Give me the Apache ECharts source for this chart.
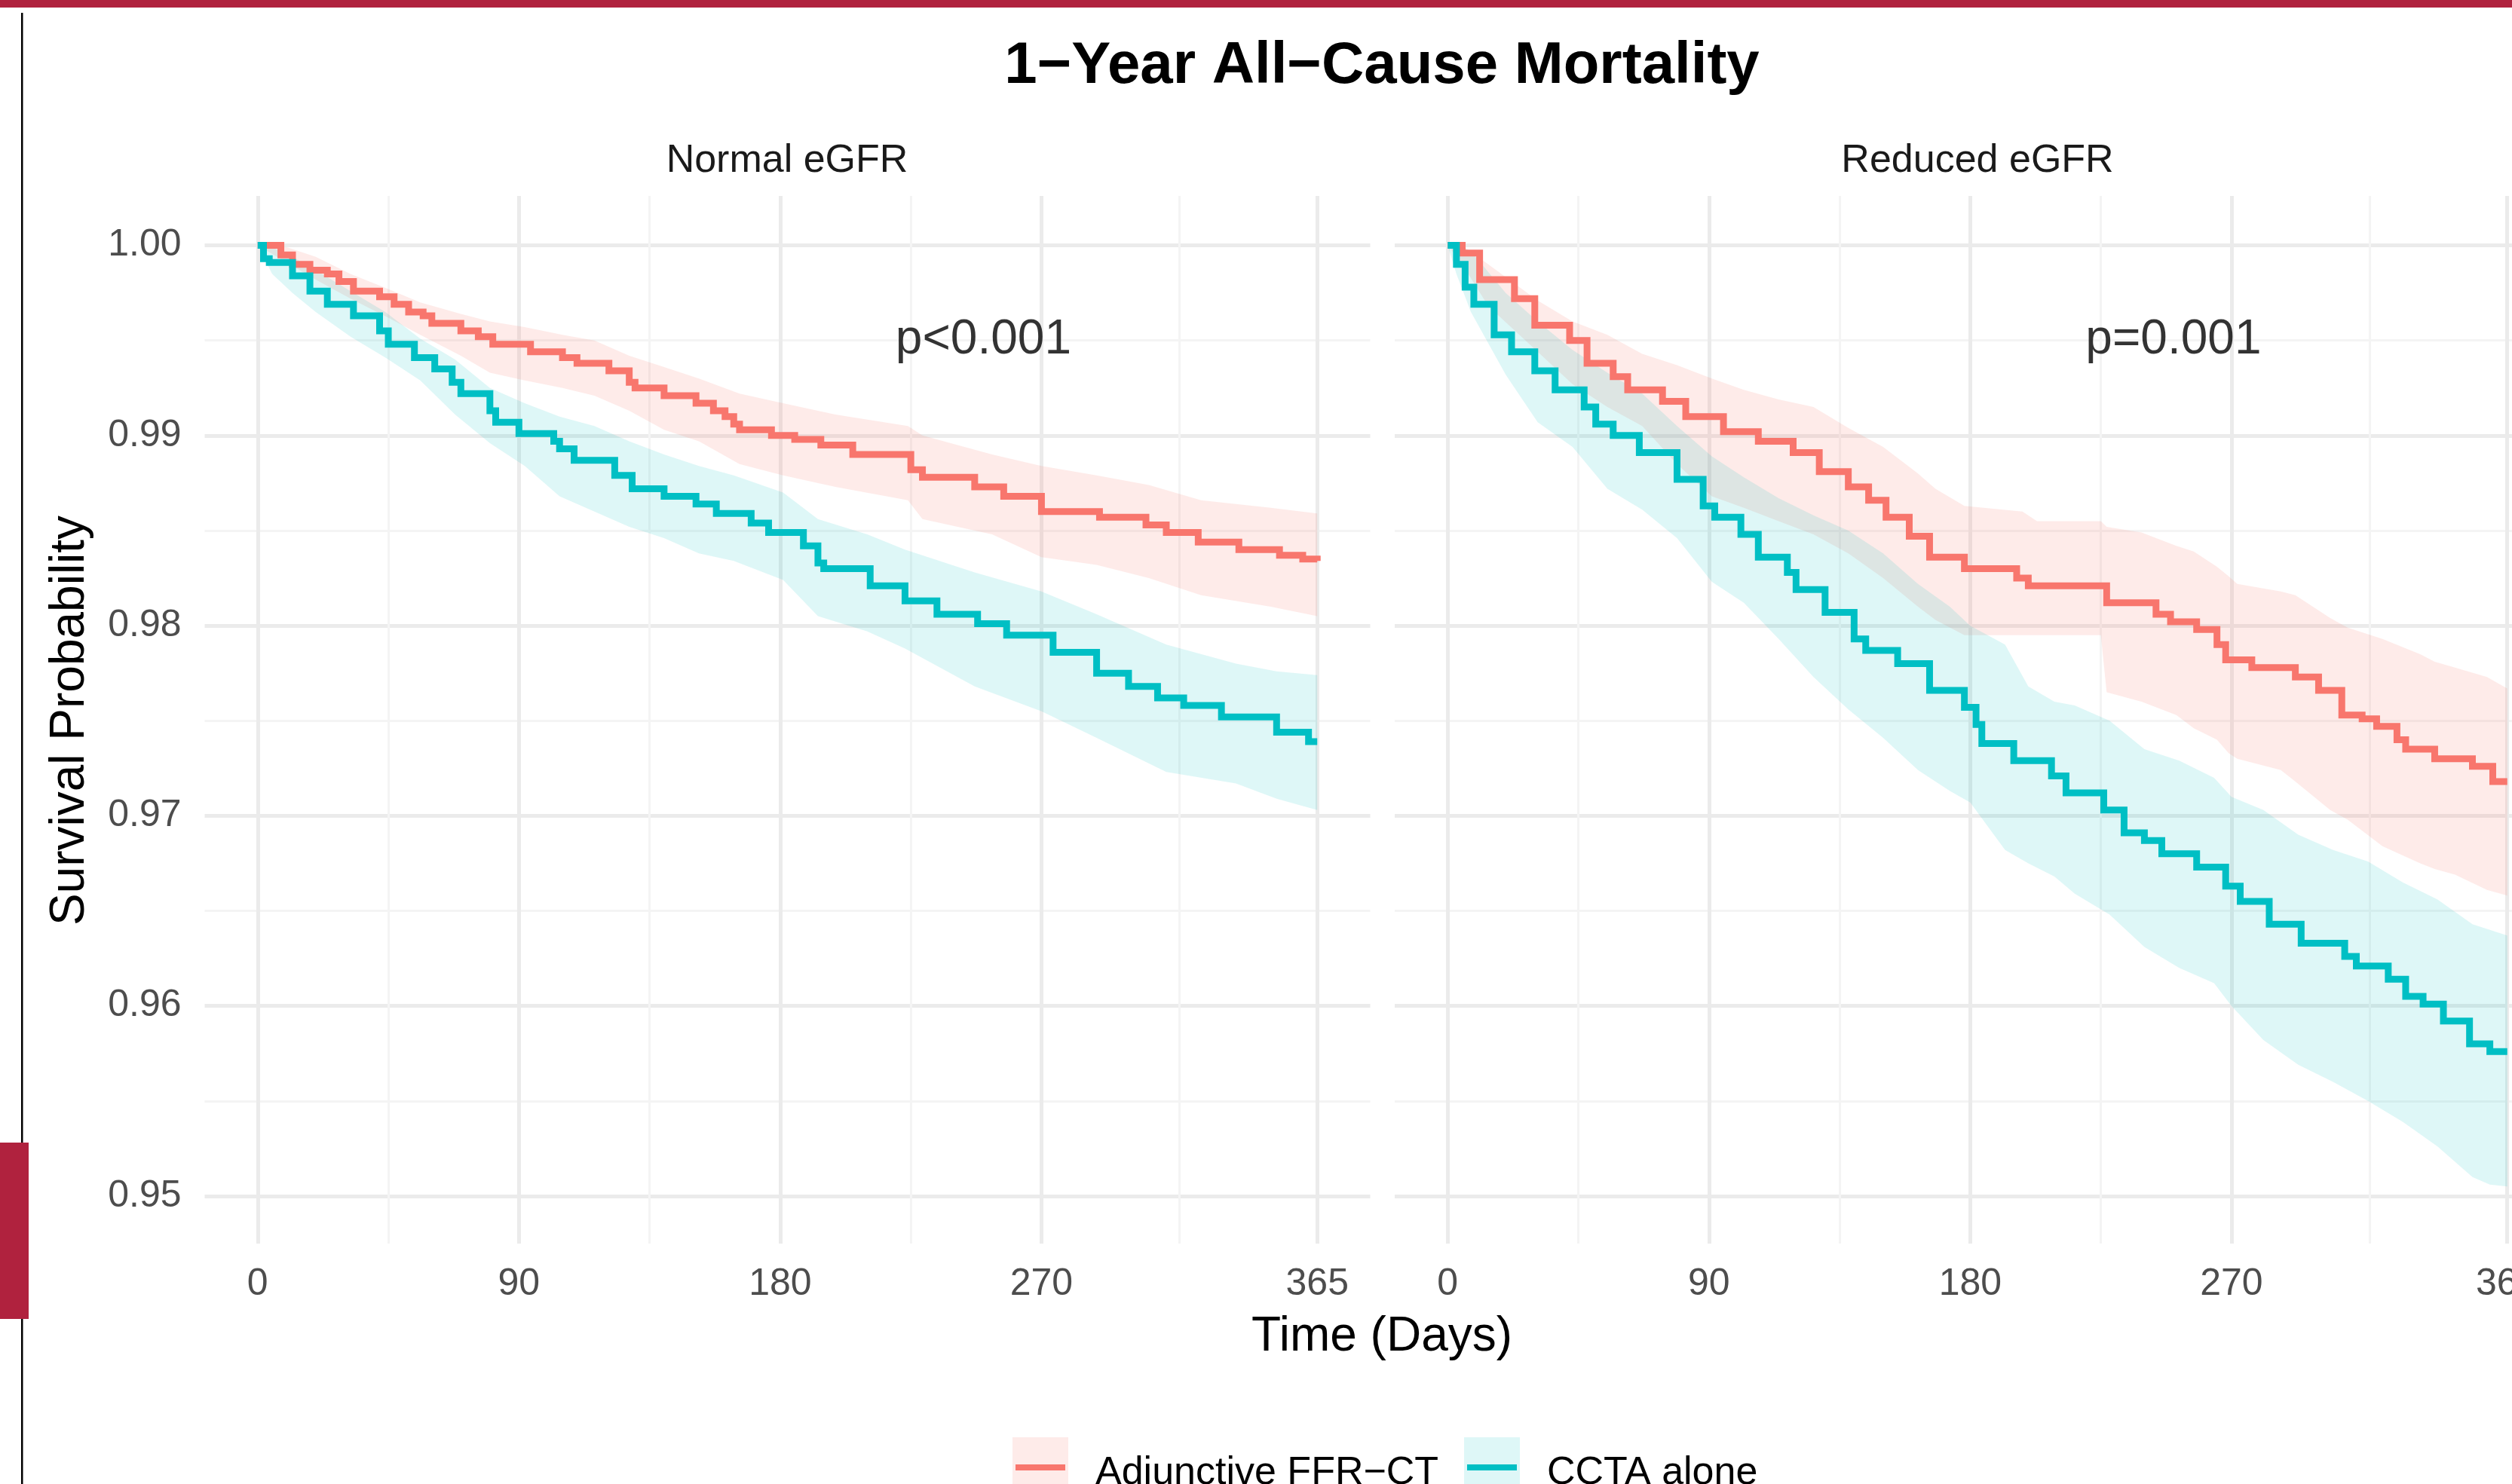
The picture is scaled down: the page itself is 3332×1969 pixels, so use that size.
<!DOCTYPE html>
<html>
<head>
<meta charset="utf-8">
<title>1-Year All-Cause Mortality</title>
<script src="https://cdn.jsdelivr.net/npm/echarts@6.0.0/dist/echarts.min.js"></script>
<style>
  html, body { margin: 0; padding: 0; background: #ffffff; }
  #chart { width: 3332px; height: 1969px; }
</style>
</head>
<body>
<div id="chart"></div>
<script>
// 坐标轴刻度
const xTicks = [0, 90, 180, 270, 365];
const xMinorTicks = [45, 135, 225, 317.5];
const yTicks = [0.95, 0.96, 0.97, 0.98, 0.99, 1.00];
const yMinorTicks = [0.955, 0.965, 0.975, 0.985, 0.995];

const panelNames = ['Normal eGFR', 'Reduced eGFR'];
const groupNames = ['Adjunctive FFR−CT', 'CCTA alone'];
const pValues = ['p<0.001', 'p=0.001'];
const pValueDay = 250;
const pValueSurv = 0.995;

// Normal eGFR - Adjunctive FFR-CT
const normFfrDays = [0, 8, 12, 18, 24, 28, 33, 42, 47, 52, 57, 60, 70, 76, 81, 94, 105, 110, 121, 128, 130, 140, 151, 157, 161, 164, 166, 177, 185, 194, 205, 225, 229, 247, 257, 270, 290, 306, 313, 324, 338, 352, 360, 365];
const normFfrSurv = [1.0, 0.9995, 0.9990, 0.9987, 0.9985, 0.9981, 0.9976, 0.9973, 0.9969, 0.9965, 0.9963, 0.9959, 0.9955, 0.9952, 0.9948, 0.9944, 0.9941, 0.9938, 0.9934, 0.9928, 0.9925, 0.9921, 0.9917, 0.9913, 0.9910, 0.9906, 0.9903, 0.9900, 0.9898, 0.9895, 0.9890, 0.9882, 0.9878, 0.9873, 0.9868, 0.9860, 0.9857, 0.9853, 0.9849, 0.9844, 0.9840, 0.9837, 0.9835, 0.9834];
const normFfrBandDays = [0, 10, 20, 32, 45, 56, 70, 80, 92, 105, 116, 128, 140, 152, 166, 181, 199, 224, 229, 253, 270, 289, 307, 325, 349, 365];
const normFfrUpper = [1.0, 0.9999, 0.9994, 0.9985, 0.9977, 0.9970, 0.9964, 0.9960, 0.9957, 0.9953, 0.9950, 0.9942, 0.9936, 0.9930, 0.9922, 0.9917, 0.9911, 0.9905, 0.9900, 0.9890, 0.9884, 0.9879, 0.9874, 0.9866, 0.9862, 0.9859];
const normFfrLower = [1.0, 0.9991, 0.9982, 0.9972, 0.9962, 0.9953, 0.9942, 0.9933, 0.9929, 0.9925, 0.9921, 0.9913, 0.9903, 0.9897, 0.9885, 0.9879, 0.9873, 0.9866, 0.9856, 0.9848, 0.9836, 0.9832, 0.9825, 0.9816, 0.9810, 0.9805];

// Normal eGFR - CCTA alone
const normCctaDays = [0, 2, 4, 12, 18, 24, 33, 42, 45, 54, 61, 67, 70, 80, 82, 90, 102, 104, 109, 123, 129, 140, 151, 158, 170, 176, 188, 193, 195, 211, 223, 234, 248, 258, 274, 289, 300, 310, 319, 332, 351, 362, 365];
const normCctaSurv = [1.0, 0.9993, 0.9991, 0.9984, 0.9976, 0.9969, 0.9963, 0.9955, 0.9948, 0.9941, 0.9935, 0.9928, 0.9922, 0.9913, 0.9907, 0.9901, 0.9897, 0.9893, 0.9887, 0.9879, 0.9872, 0.9868, 0.9864, 0.9859, 0.9854, 0.9849, 0.9842, 0.9833, 0.9830, 0.9821, 0.9813, 0.9806, 0.9801, 0.9795, 0.9786, 0.9775, 0.9768, 0.9762, 0.9758, 0.9752, 0.9744, 0.9739, 0.9739];
const normCctaBandDays = [0, 5, 12, 20, 32, 44, 56, 68, 80, 92, 104, 116, 128, 140, 152, 164, 181, 193, 210, 223, 247, 270, 289, 313, 337, 351, 365];
const normCctaUpper = [1.0, 0.9999, 0.9994, 0.9987, 0.9976, 0.9965, 0.9951, 0.9940, 0.9925, 0.9917, 0.9910, 0.9905, 0.9897, 0.9890, 0.9884, 0.9879, 0.9870, 0.9856, 0.9848, 0.9840, 0.9828, 0.9818, 0.9806, 0.9790, 0.9780, 0.9776, 0.9774];
const normCctaLower = [1.0, 0.9985, 0.9975, 0.9965, 0.9952, 0.9941, 0.9929, 0.9911, 0.9896, 0.9884, 0.9868, 0.9860, 0.9852, 0.9846, 0.9838, 0.9834, 0.9824, 0.9805, 0.9797, 0.9788, 0.9768, 0.9755, 0.9741, 0.9723, 0.9717, 0.9709, 0.9703];

// Reduced eGFR - Adjunctive FFR-CT
const reducFfrDays = [0, 5, 11, 23, 30, 42, 48, 57, 62, 74, 82, 95, 107, 119, 128, 138, 145, 151, 159, 166, 178, 196, 200, 227, 244, 249, 258, 265, 268, 277, 292, 300, 308, 315, 320, 327, 330, 340, 353, 360, 365];
const reducFfrSurv = [1.0, 0.9996, 0.9982, 0.9972, 0.9958, 0.9950, 0.9938, 0.9931, 0.9924, 0.9918, 0.9910, 0.9902, 0.9897, 0.9891, 0.9881, 0.9873, 0.9866, 0.9857, 0.9847, 0.9836, 0.9830, 0.9825, 0.9821, 0.9812, 0.9806, 0.9802, 0.9798, 0.9790, 0.9782, 0.9778, 0.9773, 0.9766, 0.9753, 0.9751, 0.9747, 0.9740, 0.9735, 0.9730, 0.9726, 0.9718, 0.9718];
const reducFfrBandDays = [0, 5, 14, 31, 43, 55, 67, 79, 91, 102, 114, 126, 138, 150, 162, 168, 178, 198, 203, 225, 227, 239, 251, 257, 265, 269, 272, 287, 292, 304, 310, 322, 335, 340, 347, 358, 365];
const reducFfrUpper = [1.0, 1.0, 0.9990, 0.9971, 0.9960, 0.9953, 0.9943, 0.9937, 0.9930, 0.9924, 0.9919, 0.9915, 0.9904, 0.9894, 0.9880, 0.9872, 0.9863, 0.9860, 0.9855, 0.9855, 0.9852, 0.9849, 0.9842, 0.9839, 0.9831, 0.9826, 0.9822, 0.9818, 0.9816, 0.9804, 0.9799, 0.9793, 0.9785, 0.9781, 0.9778, 0.9773, 0.9767];
const reducFfrLower = [1.0, 0.9990, 0.9968, 0.9944, 0.9927, 0.9915, 0.9905, 0.9885, 0.9868, 0.9862, 0.9855, 0.9848, 0.9838, 0.9825, 0.9810, 0.9803, 0.9795, 0.9795, 0.9795, 0.9795, 0.9765, 0.9760, 0.9753, 0.9746, 0.9740, 0.9733, 0.9730, 0.9724, 0.9718, 0.9703, 0.9698, 0.9684, 0.9675, 0.9672, 0.9669, 0.9661, 0.9658];

// Reduced eGFR - CCTA alone
const reducCctaDays = [0, 3, 6, 9, 16, 22, 30, 37, 47, 51, 57, 66, 79, 88, 92, 101, 107, 117, 120, 130, 140, 144, 155, 166, 178, 182, 184, 195, 208, 213, 226, 233, 240, 246, 258, 268, 273, 283, 294, 309, 313, 324, 330, 336, 343, 352, 359, 365];
const reducCctaSurv = [1.0, 0.9990, 0.9978, 0.9969, 0.9953, 0.9944, 0.9934, 0.9924, 0.9915, 0.9906, 0.9900, 0.9891, 0.9877, 0.9863, 0.9857, 0.9848, 0.9836, 0.9828, 0.9819, 0.9807, 0.9793, 0.9787, 0.9780, 0.9766, 0.9757, 0.9748, 0.9738, 0.9729, 0.9721, 0.9712, 0.9703, 0.9691, 0.9687, 0.9680, 0.9673, 0.9663, 0.9655, 0.9643, 0.9633, 0.9626, 0.9621, 0.9614, 0.9605, 0.9601, 0.9592, 0.9580, 0.9576, 0.9576];
const reducCctaBandDays = [0, 3, 8, 20, 31, 43, 55, 67, 79, 91, 102, 114, 126, 138, 150, 162, 173, 180, 192, 200, 209, 216, 228, 240, 252, 264, 270, 281, 293, 305, 317, 329, 341, 353, 359, 365];
const reducCctaUpper = [1.0, 1.0, 0.9997, 0.9975, 0.9960, 0.9945, 0.9933, 0.9922, 0.9905, 0.9889, 0.9878, 0.9867, 0.9858, 0.9850, 0.9838, 0.9822, 0.9810, 0.9800, 0.9790, 0.9768, 0.9760, 0.9758, 0.9750, 0.9735, 0.9729, 0.9720, 0.9710, 0.9703, 0.9690, 0.9682, 0.9676, 0.9665, 0.9656, 0.9643, 0.9640, 0.9637];
const reducCctaLower = [1.0, 0.9985, 0.9965, 0.9932, 0.9907, 0.9894, 0.9872, 0.9861, 0.9846, 0.9823, 0.9812, 0.9793, 0.9773, 0.9756, 0.9741, 0.9724, 0.9713, 0.9707, 0.9682, 0.9675, 0.9668, 0.9659, 0.9648, 0.9631, 0.9620, 0.9612, 0.9600, 0.9582, 0.9569, 0.9560, 0.9550, 0.9539, 0.9526, 0.9510, 0.9506, 0.9505];

// 颜色与字体
const ffrColor = '#F8766D';
const cctaColor = '#00BFC4';
const ffrFill = 'rgba(248,118,109,0.15)';
const cctaFill = 'rgba(0,191,196,0.13)';
const font = '"Liberation Sans", Arial, Helvetica, sans-serif';
const brandRed = '#B0223E';

let chart;

document.addEventListener('DOMContentLoaded', function() {
  chart = echarts.init(document.getElementById('chart'), null, { renderer: 'canvas' });
  chart.setOption(buildOption());
});

function zip(days, vals) {
  return days.map((d, i) => [d, vals[i]]);
}

// 置信区间带：上下界连成一个多边形
function bandSeries(g, days, lower, upper, fill) {
  return {
    type: 'custom',
    xAxisIndex: g * 2,
    yAxisIndex: g * 2,
    silent: true,
    z: 2,
    encode: { x: 0, y: [1, 2] },
    data: days.map((d, i) => [d, lower[i], upper[i]]),
    renderItem: function(params, api) {
      if (params.dataIndex !== 0) return null;
      const n = params.dataInsideLength;
      const top = [];
      const bottom = [];
      for (let i = 0; i < n; i++) {
        top.push(api.coord([api.value(0, i), api.value(2, i)]));
        bottom.push(api.coord([api.value(0, i), api.value(1, i)]));
      }
      return {
        type: 'polygon',
        shape: { points: top.concat(bottom.reverse()) },
        style: { fill: fill }
      };
    }
  };
}

function curveSeries(name, g, days, surv, color) {
  return {
    name: name,
    type: 'line',
    xAxisIndex: g * 2,
    yAxisIndex: g * 2,
    step: 'end',
    symbol: 'none',
    silent: true,
    lineStyle: { color: color, width: 9, cap: 'butt', join: 'miter' },
    data: zip(days, surv),
    z: 5
  };
}

function pValueSeries(g) {
  return {
    type: 'scatter',
    xAxisIndex: g * 2,
    yAxisIndex: g * 2,
    symbolSize: 0,
    silent: true,
    label: {
      show: true,
      position: 'inside',
      formatter: pValues[g],
      fontSize: 64,
      fontFamily: font,
      color: '#000000'
    },
    data: [[pValueDay, pValueSurv]],
    z: 6
  };
}

function xAxisFor(g, minor) {
  const ticks = minor ? xMinorTicks : xTicks;
  return {
    type: 'value',
    gridIndex: g,
    min: -18.25,
    max: 383.25,
    axisLine: { show: false },
    axisTick: { show: false, customValues: ticks },
    axisLabel: {
      show: !minor,
      customValues: ticks,
      margin: 29,
      fontSize: 50,
      fontFamily: font,
      color: '#4D4D4D'
    },
    splitLine: {
      show: true,
      lineStyle: { color: minor ? '#F4F4F4' : '#EBEBEB', width: minor ? 3 : 5 }
    }
  };
}

function yAxisFor(g, minor) {
  const ticks = minor ? yMinorTicks : yTicks;
  return {
    type: 'value',
    gridIndex: g,
    min: 0.9475,
    max: 1.0026,
    axisLine: { show: false },
    axisTick: { show: false, customValues: ticks },
    axisLabel: {
      show: !minor && g === 0,
      customValues: ticks,
      margin: 31,
      fontSize: 50,
      fontFamily: font,
      color: '#4D4D4D',
      formatter: v => v.toFixed(2)
    },
    splitLine: {
      show: true,
      lineStyle: { color: minor ? '#F4F4F4' : '#EBEBEB', width: minor ? 3 : 5 }
    }
  };
}

function legendItem(x, color, fill, text) {
  return [
    { type: 'rect', shape: { x: x, y: 1907, width: 74, height: 70 }, style: { fill: fill } },
    { type: 'line', shape: { x1: x + 4, y1: 1947, x2: x + 70, y2: 1947 }, style: { stroke: color, lineWidth: 8 } },
    {
      type: 'text', x: x + 110, y: 1955,
      style: { text: text, fontSize: 52, fontFamily: font, fill: '#000000', align: 'left', verticalAlign: 'middle' }
    }
  ];
}

function buildOption() {
  const series = [
    bandSeries(0, normFfrBandDays, normFfrLower, normFfrUpper, ffrFill),
    bandSeries(0, normCctaBandDays, normCctaLower, normCctaUpper, cctaFill),
    bandSeries(1, reducFfrBandDays, reducFfrLower, reducFfrUpper, ffrFill),
    bandSeries(1, reducCctaBandDays, reducCctaLower, reducCctaUpper, cctaFill),
    curveSeries(groupNames[0], 0, normFfrDays, normFfrSurv, ffrColor),
    curveSeries(groupNames[1], 0, normCctaDays, normCctaSurv, cctaColor),
    curveSeries(groupNames[0], 1, reducFfrDays, reducFfrSurv, ffrColor),
    curveSeries(groupNames[1], 1, reducCctaDays, reducCctaSurv, cctaColor),
    pValueSeries(0),
    pValueSeries(1)
  ];

  return {
    animation: false,
    backgroundColor: '#ffffff',
    grid: [
      { left: 271.5, top: 260, width: 1546, height: 1390, containLabel: false, outerBoundsMode: 'none' },
      { left: 1850, top: 260, width: 1546, height: 1390, containLabel: false, outerBoundsMode: 'none' }
    ],
    xAxis: [xAxisFor(0, false), xAxisFor(0, true), xAxisFor(1, false), xAxisFor(1, true)],
    yAxis: [yAxisFor(0, false), yAxisFor(0, true), yAxisFor(1, false), yAxisFor(1, true)],
    series: series,
    graphic: [
      // 页面装饰
      { type: 'rect', shape: { x: 0, y: 0, width: 3332, height: 10 }, style: { fill: brandRed } },
      { type: 'rect', shape: { x: 28, y: 17, width: 2.5, height: 1952 }, style: { fill: '#000000' } },
      { type: 'rect', shape: { x: 0, y: 1516, width: 38, height: 234 }, style: { fill: brandRed } },
      // 标题
      {
        type: 'text', x: 1833, y: 88,
        style: { text: '1−Year All−Cause Mortality', fontSize: 78, fontWeight: 'bold', fontFamily: font, fill: '#000000', align: 'center', verticalAlign: 'middle' }
      },
      {
        type: 'text', x: 1044, y: 214,
        style: { text: panelNames[0], fontSize: 52, fontFamily: font, fill: '#1A1A1A', align: 'center', verticalAlign: 'middle' }
      },
      {
        type: 'text', x: 2623, y: 214,
        style: { text: panelNames[1], fontSize: 52, fontFamily: font, fill: '#1A1A1A', align: 'center', verticalAlign: 'middle' }
      },
      {
        type: 'text', x: 1833, y: 1774,
        style: { text: 'Time (Days)', fontSize: 64, fontFamily: font, fill: '#000000', align: 'center', verticalAlign: 'middle' }
      },
      {
        type: 'text', x: 93, y: 956, rotation: Math.PI / 2,
        style: { text: 'Survival Probability', fontSize: 64, fontFamily: font, fill: '#000000', align: 'center', verticalAlign: 'middle' }
      }
    ].concat(
      legendItem(1343, ffrColor, ffrFill, groupNames[0]),
      legendItem(1942, cctaColor, cctaFill, groupNames[1])
    )
  };
}

window.addEventListener('resize', function() {
  if (chart) chart.resize();
});
</script>
</body>
</html>
